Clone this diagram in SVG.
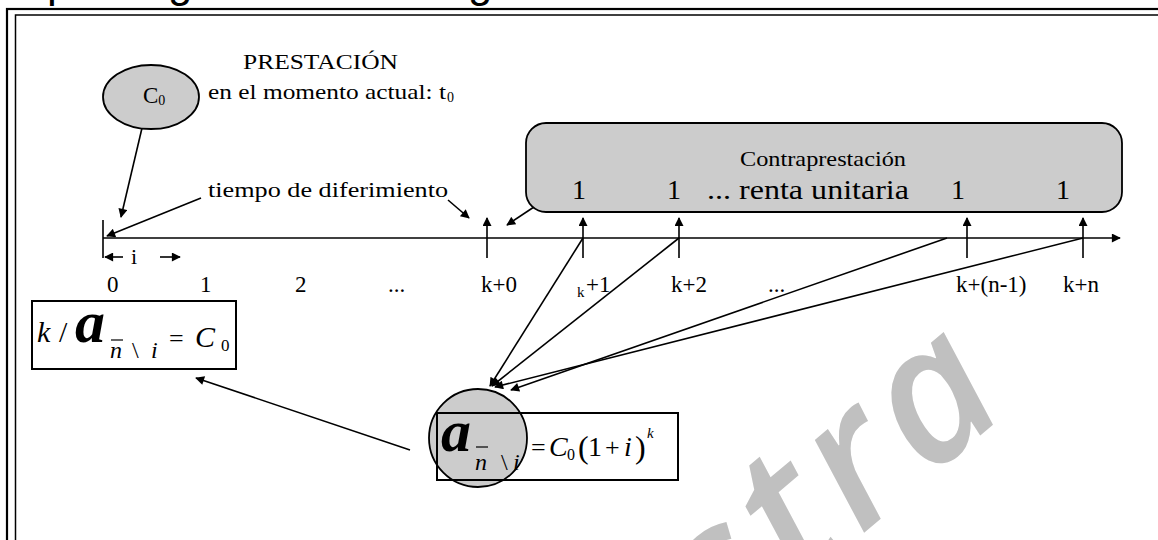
<svg xmlns="http://www.w3.org/2000/svg" width="1158" height="540" viewBox="0 0 1158 540">
<style>
.t{font-family:"Liberation Serif","Times New Roman",serif;fill:#000}
.it{font-family:"Liberation Serif","Times New Roman",serif;font-style:italic;fill:#000}
.ln{stroke:#000;stroke-width:1.6;fill:none}
.gray{fill:#cccccc;stroke:#000;stroke-width:1.8}
</style>
<defs>
<marker id="ah" viewBox="0 0 10 10" refX="9" refY="5" markerWidth="11" markerHeight="9" markerUnits="userSpaceOnUse" orient="auto"><path d="M0,0 L10,5 L0,10 z" fill="#000"/></marker>
</defs>
<rect width="1158" height="540" fill="#fff"/>
<!-- watermark -->
<text x="1020" y="402" transform="rotate(-40 1020 402)" text-anchor="end" font-family="Open Sans" font-style="italic" font-weight="600" font-size="190" letter-spacing="10" fill="#c0c0c0">Muestra</text>
<!-- cut-off title fragments -->
<g font-family="Liberation Sans" font-size="44" fill="#000">
<text x="47" y="-3">p</text><text x="168" y="-3">g</text><text x="468" y="-3">g</text>
</g>
<!-- frame -->
<rect x="7" y="9" width="1200" height="600" fill="none" stroke="#000" stroke-width="2.2"/>
<rect x="15.5" y="15" width="1200" height="600" fill="none" stroke="#000" stroke-width="1.5"/>

<g id="connectors">
<line class="ln" x1="103" y1="238" x2="1120" y2="238" stroke-width="2" marker-end="url(#ah)"/>
<line class="ln" x1="103" y1="220" x2="103" y2="258" stroke-width="2.2"/>
<line class="ln" x1="123" y1="257" x2="105" y2="257" marker-end="url(#ah)"/>
<line class="ln" x1="160" y1="257" x2="180" y2="257" marker-end="url(#ah)"/>
<line class="ln" x1="487" y1="258" x2="487" y2="218" marker-end="url(#ah)"/>
<line class="ln" x1="583" y1="258" x2="583" y2="218" marker-end="url(#ah)"/>
<line class="ln" x1="679" y1="258" x2="679" y2="218" marker-end="url(#ah)"/>
<line class="ln" x1="967" y1="258" x2="967" y2="218" marker-end="url(#ah)"/>
<line class="ln" x1="1083" y1="258" x2="1083" y2="218" marker-end="url(#ah)"/>
<line class="ln" x1="142" y1="128" x2="121" y2="217" marker-end="url(#ah)"/>
<line class="ln" x1="201" y1="198" x2="107" y2="236" marker-end="url(#ah)"/>
<line class="ln" x1="448" y1="200" x2="469" y2="218" marker-end="url(#ah)"/>
<line class="ln" x1="546" y1="199" x2="507" y2="225" marker-end="url(#ah)"/>
<line class="ln" x1="583" y1="238" x2="490" y2="386" marker-end="url(#ah)"/>
<line class="ln" x1="679" y1="238" x2="492" y2="386" marker-end="url(#ah)"/>
<line class="ln" x1="947" y1="238" x2="511" y2="390" marker-end="url(#ah)"/>
<line class="ln" x1="1083" y1="238" x2="495" y2="387" marker-end="url(#ah)"/>
<line class="ln" x1="410" y1="450" x2="196" y2="378" marker-end="url(#ah)"/>
</g>

<g id="prestacion">
<ellipse class="gray" cx="151" cy="97" rx="48" ry="32"/>
<text class="t" x="143" y="103" font-size="23">C<tspan font-size="14" dy="2">0</tspan></text>
<text class="t" x="243" y="69" font-size="21" textLength="155" lengthAdjust="spacingAndGlyphs">PRESTACIÓN</text>
<text class="t" x="208" y="99" font-size="21" textLength="238" lengthAdjust="spacingAndGlyphs">en el momento actual: t</text>
<text class="t" x="447" y="102" font-size="14">0</text>
</g>

<g id="diferimiento">
<text class="t" x="208" y="197" font-size="22" textLength="240" lengthAdjust="spacingAndGlyphs">tiempo de diferimiento</text>
</g>

<g id="contraprestacion">
<rect class="gray" x="526" y="123" width="596" height="89" rx="20"/>
<text class="t" x="740" y="166" font-size="22" textLength="166" lengthAdjust="spacingAndGlyphs">Contraprestación</text>
<g class="t" font-size="28">
<text x="572" y="199">1</text>
<text x="667" y="199">1</text>
<text x="707" y="199" textLength="202" lengthAdjust="spacingAndGlyphs">... renta unitaria</text>
<text x="951" y="199">1</text>
<text x="1056" y="199">1</text>
</g>
</g>

<g id="axis-labels" class="t" font-size="23">
<text x="131" y="264" font-size="22">i</text>
<text x="107" y="292">0</text>
<text x="200" y="292">1</text>
<text x="295" y="292">2</text>
<text x="388" y="292">...</text>
<text x="481" y="292">k+0</text>
<text x="577" y="297" font-size="15">k</text>
<text x="586" y="292">+1</text>
<text x="671" y="292">k+2</text>
<text x="768" y="292">...</text>
<text x="956" y="292">k+(n-1)</text>
<text x="1063" y="292">k+n</text>
</g>

<g id="formula-left">
<rect x="32" y="301" width="204" height="68" fill="none" stroke="#000" stroke-width="2"/>
<text class="it" x="37" y="342" font-size="30">k</text>
<text class="t" x="59" y="342" font-size="30">/</text>
<text class="it" x="75" y="342" font-size="60" font-weight="bold">a</text>
<text class="it" x="110" y="358" font-size="24">n</text>
<line x1="111" y1="340" x2="123" y2="340" stroke="#000" stroke-width="1.2"/>
<text class="t" x="132" y="358" font-size="24">\</text>
<text class="it" x="151" y="358" font-size="24">i</text>
<text class="t" x="169" y="347" font-size="26">=</text>
<text class="it" x="195" y="347" font-size="30">C</text>
<text class="t" x="221" y="351" font-size="17">0</text>
</g>

<g id="formula-bottom">
<circle class="gray" cx="478" cy="438" r="49" stroke-width="2.2"/>
<rect x="437" y="413" width="241" height="67" fill="none" stroke="#000" stroke-width="2"/>
<text class="it" x="441" y="451" font-size="60" font-weight="bold">a</text>
<text class="it" x="475" y="470" font-size="24">n</text>
<line x1="476" y1="447" x2="488" y2="447" stroke="#000" stroke-width="1.2"/>
<text class="t" x="501" y="470" font-size="24">\</text>
<text class="it" x="513" y="470" font-size="24">i</text>
<text class="t" x="531" y="456" font-size="26">=</text>
<text class="it" x="549" y="456" font-size="28">C</text>
<text class="t" x="567" y="460" font-size="16">0</text>
<text class="t" x="578" y="458" font-size="32">(</text>
<text class="t" x="588" y="456" font-size="28">1</text>
<text class="t" x="605" y="456" font-size="26">+</text>
<text class="it" x="624" y="456" font-size="28">i</text>
<text class="t" x="635" y="458" font-size="32">)</text>
<text class="it" x="647" y="438" font-size="15">k</text>
</g>
</svg>
